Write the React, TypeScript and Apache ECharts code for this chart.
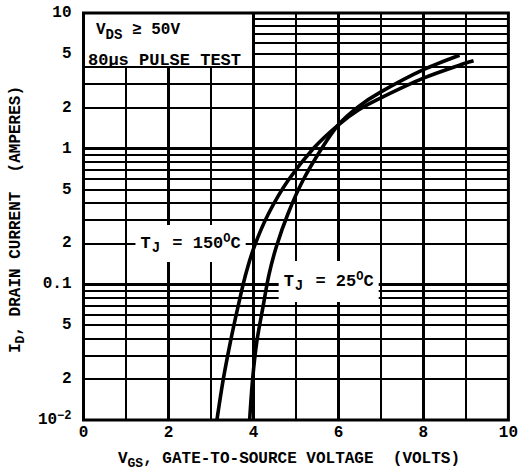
import React, { useEffect, useRef } from 'react';
import * as echarts from 'echarts';

// ---- data ----
const xTicks = [0, 2, 4, 6, 8, 10];
const decades = [0.01, 0.1, 1];
const multipliers = [2, 3, 4, 5, 6, 7, 8, 9];
const labelledMinor = [0.02, 0.05, 0.2, 0.5, 2, 5];
const vGrid = [1, 2, 3, 4, 5, 6, 7, 8, 9];

const vgs150 = [3.14, 3.29, 3.46, 3.63, 3.81, 4.02, 4.35, 4.81, 5.43, 6.0, 6.47, 7.0, 8.0, 8.85, 9.18];
const id150 = [0.01, 0.02, 0.038, 0.067, 0.116, 0.19, 0.33, 0.58, 1.02, 1.5, 1.93, 2.37, 3.31, 4.13, 4.44];
const vgs25 = [3.91, 3.98, 4.08, 4.22, 4.36, 4.54, 4.81, 5.16, 5.62, 6.0, 6.47, 7.0, 8.0, 8.85];
const id25 = [0.01, 0.02, 0.038, 0.067, 0.116, 0.19, 0.33, 0.58, 1.02, 1.5, 2.04, 2.62, 3.82, 4.88];

const FONT = 'Liberation Mono';
const base = { fontFamily: FONT, fontSize: 16, fontWeight: 'bold' as const, color: '#000' };

export default function App() {
  const ref = useRef<HTMLDivElement>(null);
  useEffect(() => {
    if (!ref.current) return;
    const chart = echarts.init(ref.current, null, { renderer: 'svg' });

    // gridlines
    const gridLines: any[] = [];
    decades.forEach((d) => {
      multipliers.forEach((m) => {
        const v = +(d * m).toPrecision(6);
        const startX = d === 1 && m >= 5 ? 4 : 0;
        gridLines.push([
          { coord: [startX, v], lineStyle: { color: '#000', width: 1.8, type: 'solid' } },
          { coord: [10, v] },
        ]);
      });
      if (d !== 0.01) {
        gridLines.push([
          { coord: [0, d], lineStyle: { color: '#000', width: 3, type: 'solid' } },
          { coord: [10, d] },
        ]);
      }
    });
    vGrid.forEach((x) => {
      const w = x % 2 === 0 ? 3 : 2;
      const top = x < 4 ? 4 : 10;
      gridLines.push([
        { coord: [x, 0.01], lineStyle: { color: '#000', width: w, type: 'solid' } },
        { coord: [x, top] },
      ]);
    });

    const tickPoints = labelledMinor.map((v) => ({
      name: String(Math.round(v / Math.pow(10, Math.floor(Math.log10(v) + 1e-9)))),
      coord: [0, v],
      label: { show: true, position: 'left', distance: 12, formatter: (p: any) => p.name, ...base },
    }));

    const tjBase = { ...base, fontSize: 17 };
    const tjRich = {
      n: { ...tjBase },
      sub: { ...tjBase, fontSize: 14, padding: [9, 2, 0, 1] },
      sup: { ...tjBase, fontSize: 12, padding: [0, 0, 9, 0] },
    };

    const option: any = {
      animation: false,
      backgroundColor: '#fff',
      grid: {
        left: 80, right: 8, top: 13, bottom: 48,
        show: true, borderColor: '#000', borderWidth: 3, backgroundColor: '#fff',
      },
      xAxis: {
        type: 'value', min: 0, max: 10, interval: 2,
        axisLine: { show: false }, axisTick: { show: false }, splitLine: { show: false },
        axisLabel: { ...base, margin: 5, formatter: (v: number) => (xTicks.includes(v) ? String(v) : '') },
        name: '{v|V}{s|GS}{n|, GATE-TO-SOURCE VOLTAGE  (VOLTS)}',
        nameLocation: 'middle', nameGap: 28,
        nameTextStyle: {
          ...base,
          padding: [0, 14, 0, 0],
          rich: {
            v: { ...base },
            s: { ...base, fontSize: 13, padding: [9, 0, 0, 0] },
            n: { ...base },
          },
        },
      },
      yAxis: {
        type: 'log', logBase: 10, min: 0.01, max: 10,
        axisLine: { show: false }, axisTick: { show: false }, splitLine: { show: false },
        minorTick: { show: false }, minorSplitLine: { show: false },
        axisLabel: {
          ...base, margin: 12,
          formatter: (v: number) => {
            const e = Math.round(Math.log10(v));
            if (e === -2) return '{b|10}{s|−2}';
            if (e === -1) return '0.1';
            if (e === 0) return '1';
            return '10';
          },
          rich: {
            b: { ...base },
            s: { ...base, fontSize: 12, padding: [0, 0, 9, 0] },
          },
        },
        name: '{n|I}{s|D}{n|, DRAIN CURRENT  (AMPERES)}',
        nameLocation: 'middle', nameGap: 49, nameRotate: 90,
        nameTextStyle: {
          ...base,
          padding: [0, 6, 0, 0],
          rich: {
            n: { ...base },
            s: { ...base, fontSize: 13, padding: [9, 0, 0, 0] },
          },
        },
      },
      graphic: [
        {
          type: 'text', left: 96, top: 22, z: 100,
          style: {
            text: '{n|V}{s|DS}{n| ≥ 50V}',
            rich: {
              n: { ...base, fill: '#000', fontSize: 16 },
              s: { ...base, fill: '#000', fontSize: 14, padding: [10, 0, 0, 0] },
            },
          },
        },
        {
          type: 'text', left: 88, top: 52, z: 100,
          style: { text: '80μs PULSE TEST', fill: '#000', font: `bold 17px "${FONT}"` },
        },
      ],
      series: [
        {
          name: 'grid', type: 'line', data: [], z: 1, silent: true,
          markLine: { silent: true, symbol: 'none', label: { show: false }, animation: false, data: gridLines },
        },
        {
          name: 'labels', type: 'line', data: [], z: 3, silent: true,
          markPoint: {
            silent: true, symbol: 'circle', symbolSize: 0, animation: false,
            data: [
              ...tickPoints,
              {
                name: 't150', coord: [2.52, 0.2],
                label: {
                  show: true, position: 'inside', backgroundColor: '#fff', padding: [7, 5, 7, 5],
                  formatter: '{n|T}{sub|J}{n| = 150}{sup|O}{n|C}', rich: tjRich, ...tjBase,
                },
              },
              {
                name: 't25', coord: [5.77, 0.105],
                label: {
                  show: true, position: 'inside', backgroundColor: '#fff', padding: [9, 5, 9, 5],
                  formatter: '{n|T}{sub|J}{n| = 25}{sup|O}{n|C}', rich: tjRich, ...tjBase,
                },
              },
            ],
          },
        },
        {
          name: 'TJ = 150°C', type: 'line', z: 5, smooth: 0.3, showSymbol: false, clip: true,
          lineStyle: { color: '#000', width: 3.6 },
          data: vgs150.map((v, i) => [v, id150[i]]),
        },
        {
          name: 'TJ = 25°C', type: 'line', z: 5, smooth: 0.3, showSymbol: false, clip: true,
          lineStyle: { color: '#000', width: 3.6 },
          data: vgs25.map((v, i) => [v, id25[i]]),
        },
      ],
    };
    chart.setOption(option);
    return () => chart.dispose();
  }, []);
  return <div ref={ref} style={{ position: 'fixed', left: 0, top: 0, width: 521, height: 475 }} />;
}
